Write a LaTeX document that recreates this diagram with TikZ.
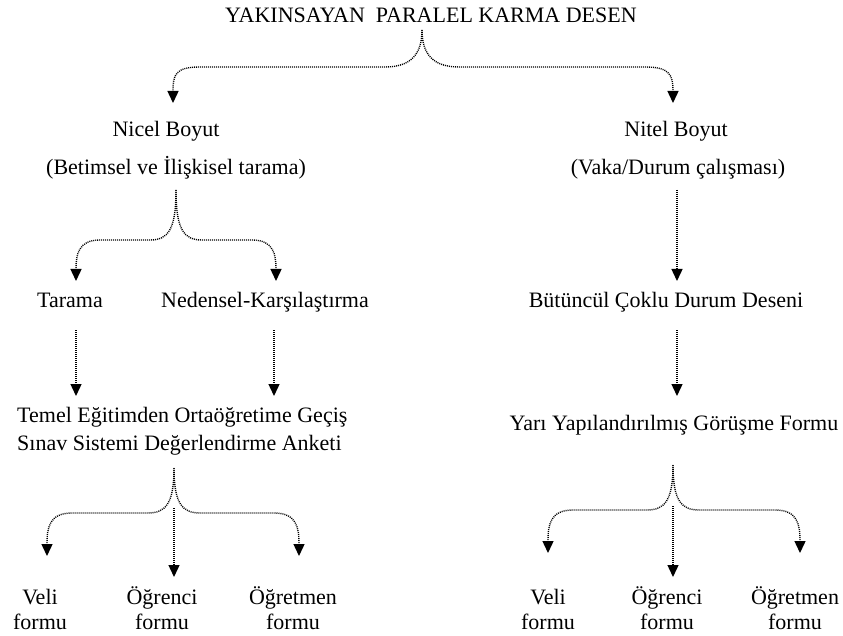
\documentclass[tikz,border=0pt]{standalone}
\usepackage{fontspec}
\setmainfont{Liberation Serif}
\usetikzlibrary{arrows.meta}
\begin{document}
\begin{tikzpicture}[x=1pt,y=-1pt,
  lbl/.style={anchor=base,inner sep=0pt,font=\fontsize{22}{26}\selectfont},
  conn/.style={line width=1.4pt,dash pattern=on 1pt off 1pt,-{Triangle[width=11pt,length=12pt]}}]
\useasboundingbox (0,0) rectangle (843,636);
% texts
\node[lbl] (title) at (431,23) {YAKINSAYAN\ \ PARALEL KARMA DESEN};
\node[lbl] (nicel) at (166,137) {Nicel Boyut};
\node[lbl] (nicel2) at (176,175) {(Betimsel ve İlişkisel tarama)};
\node[lbl] (nitel) at (676,137) {Nitel Boyut};
\node[lbl] (nitel2) at (678,175) {(Vaka/Durum\ çalışması)};
\node[lbl] (tarama) at (70,307) {Tarama};
\node[lbl] (neden) at (265,307) {Nedensel-Karşılaştırma};
\node[lbl] (butun) at (666,307) {Bütüncül Çoklu Durum Deseni};
\node[lbl,anchor=base west] (temel) at (17,422) {Temel Eğitimden Ortaöğretime Geçiş};
\node[lbl,anchor=base west] (sinav) at (17,450) {Sınav Sistemi Değerlendirme Anketi};
\node[lbl] (yari) at (674,430) {Yarı Yapılandırılmış Görüşme Formu};
\node[lbl] (veliL) at (40,604) {Veli};
\node[lbl] (veliL2) at (40,629) {formu};
\node[lbl] (ogrL) at (162,604) {Öğrenci};
\node[lbl] (ogrL2) at (162,629) {formu};
\node[lbl] (ogtL) at (293,604) {Öğretmen};
\node[lbl] (ogtL2) at (293,629) {formu};
\node[lbl] (veliR) at (548,604) {Veli};
\node[lbl] (veliR2) at (548,629) {formu};
\node[lbl] (ogrR) at (667,604) {Öğrenci};
\node[lbl] (ogrR2) at (667,629) {formu};
\node[lbl] (ogtR) at (795,604) {Öğretmen};
\node[lbl] (ogtR2) at (795,629) {formu};
% coordinates
\coordinate (a1) at (422,30);
\coordinate (t1) at (173,103);
\coordinate (t2) at (673,103);
\coordinate (a2) at (176,190);
\coordinate (t3) at (76,281);
\coordinate (t4) at (276,281);
\coordinate (s5) at (677,190);
\coordinate (t5) at (677,281);
\coordinate (s6) at (76,330);
\coordinate (t6) at (76,396);
\coordinate (s7) at (274,330);
\coordinate (t7) at (274,396);
\coordinate (s8) at (677,330);
\coordinate (t8) at (677,396);
\coordinate (a3) at (174,468);
\coordinate (t9) at (47,556);
\coordinate (t10) at (299,556);
\coordinate (s11) at (174,508);
\coordinate (t11) at (174,577);
\coordinate (a4) at (673,465);
\coordinate (t12) at (548,553);
\coordinate (t13) at (800,553);
\coordinate (s14) at (673,506);
\coordinate (t14) at (673,577);
% connectors
\draw[conn] (a1) .. controls (422,55) and (410,67) .. (385,67) -- (200,67) .. controls (175,67) and (173,75) .. (t1);
\draw[conn] (a1) .. controls (422,55) and (434,67) .. (459,67) -- (645,67) .. controls (670,67) and (673,75) .. (t2);
\draw[conn] (a2) .. controls (176,230) and (168,240) .. (150,240) -- (100,240) .. controls (78,240) and (76,255) .. (t3);
\draw[conn] (a2) .. controls (176,230) and (184,240) .. (202,240) -- (252,240) .. controls (274,240) and (276,255) .. (t4);
\draw[conn] (s5) -- (t5);
\draw[conn] (s6) -- (t6);
\draw[conn] (s7) -- (t7);
\draw[conn] (s8) -- (t8);
\draw[conn] (a3) .. controls (174,503) and (166,513) .. (148,513) -- (72,513) .. controls (49,513) and (47,528) .. (t9);
\draw[conn] (a3) .. controls (174,503) and (182,513) .. (200,513) -- (274,513) .. controls (297,513) and (299,528) .. (t10);
\draw[conn] (s11) -- (t11);
\draw[conn] (a4) .. controls (673,500) and (665,510) .. (647,510) -- (573,510) .. controls (550,510) and (548,525) .. (t12);
\draw[conn] (a4) .. controls (673,500) and (681,510) .. (699,510) -- (775,510) .. controls (798,510) and (800,525) .. (t13);
\draw[conn] (s14) -- (t14);
\end{tikzpicture}
\end{document}
